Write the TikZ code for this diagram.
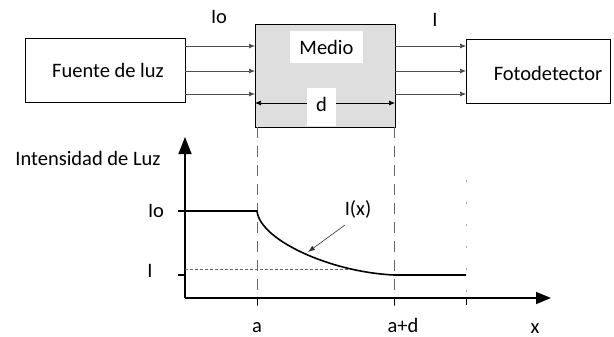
\documentclass[tikz,border=0pt]{standalone}
\usepackage{fontspec}
\setmainfont{Carlito}
\usetikzlibrary{arrows.meta}
\begin{document}
\begin{tikzpicture}[x=1pt,y=-1pt,
  txt/.style={inner sep=0pt,font=\fontsize{20.5}{24}\selectfont},
  blk/.style={draw,line width=0.8pt,inner sep=0pt},
  ray/.style={draw=black!70,line width=0.7pt,-{Latex[length=6pt,width=5pt]}},
  axis/.style={line width=1.6pt},
  guide/.style={draw=black!60,line width=0.7pt,dash pattern=on 11pt off 8pt}]
\useasboundingbox (0,0) rectangle (614,337);
% top blocks
\node[blk,minimum width=160,minimum height=64] (src) at (105,70) {};
\node[txt] (srct) at (108,70) {Fuente de luz};
\node[blk,fill=black!13,minimum width=140,minimum height=103] (med) at (325,75.5) {};
\node[txt,fill=white,minimum width=73,minimum height=32] (medt) at (326.5,47) {Medio};
\node[blk,minimum width=144,minimum height=64] (det) at (538,71) {};
\node[txt] (dett) at (548,73) {Fotodetector};
% rays
\foreach \y/\n in {46/1,71/2,94/3}{
  \coordinate (l\n) at (185,\y); \coordinate (m\n) at (255,\y);
  \coordinate (r\n) at (395,\y); \coordinate (d\n) at (466,\y);
  \draw[ray] (l\n) -- (m\n);
  \draw[ray] (r\n) -- (d\n);
}
\node[txt] (io) at (219,17) {Io};
\node[txt] (itop) at (435,20) {I};
% d dimension
\coordinate (da) at (255,103); \coordinate (db) at (395,103);
\draw[line width=0.7pt,{Latex[length=6pt,width=5pt]}-{Latex[length=6pt,width=5pt]}] (da) -- (db);
\node[txt,fill=white,minimum width=29,minimum height=38] (dlab) at (321.5,107.5) {};
\node[txt] (dt) at (321.5,104) {d};
% graph
\coordinate (O) at (185,298);
\coordinate (ytop) at (185,137);
\coordinate (xend) at (551,298);
\draw[axis,-{Triangle[length=17pt,width=13pt]}] (O) -- (ytop);
\draw[axis,-{Triangle[length=15pt,width=12pt]}] (O) -- (xend);
% guides
\coordinate (ga1) at (257,127); \coordinate (ga2) at (257,306);
\coordinate (gb1) at (394,127); \coordinate (gb2) at (394,306);
\coordinate (gc1) at (466,180); \coordinate (gc2) at (466,306);
\draw[guide] (ga1) -- (ga2);
\draw[guide] (gb1) -- (gb2);
\draw[draw=black!35,line width=0.6pt,dash pattern=on 2pt off 20pt] (gc1) -- (gc2);
\foreach \x in {257,394,466}{\draw[line width=1pt] (\x,298) -- (\x,305);}
% levels
\coordinate (io0) at (178,211); \coordinate (ioa) at (257,211);
\coordinate (ad) at (394,275); \coordinate (iend) at (466,275);
\draw[line width=1.1pt] (178,275) -- (185,275);
\draw[black!60,line width=0.5pt,dash pattern=on 3pt off 2pt] (185,269) -- (355,269);
\draw[axis] (io0) -- (ioa) .. controls (260,240) and (330,272) .. (ad) -- (iend);
% labels
\node[txt] (ylab) at (88,158) {Intensidad de Luz};
\node[txt] (iol) at (156,211) {Io};
\node[txt] (il) at (150,271) {I};
\node[txt,anchor=base] (al) at (257,332) {a};
\node[txt,anchor=base] (adl) at (403,332) {a+d};
\node[txt,anchor=base] (xl) at (535,333) {x};
\node[txt] (ixl) at (358,209) {I(x)};
\coordinate (ixa) at (345,225); \coordinate (ixb) at (308,252);
\draw[black!80,line width=0.6pt,-{Latex[length=7pt,width=5pt]}] (ixa) -- (ixb);
\end{tikzpicture}
\end{document}
